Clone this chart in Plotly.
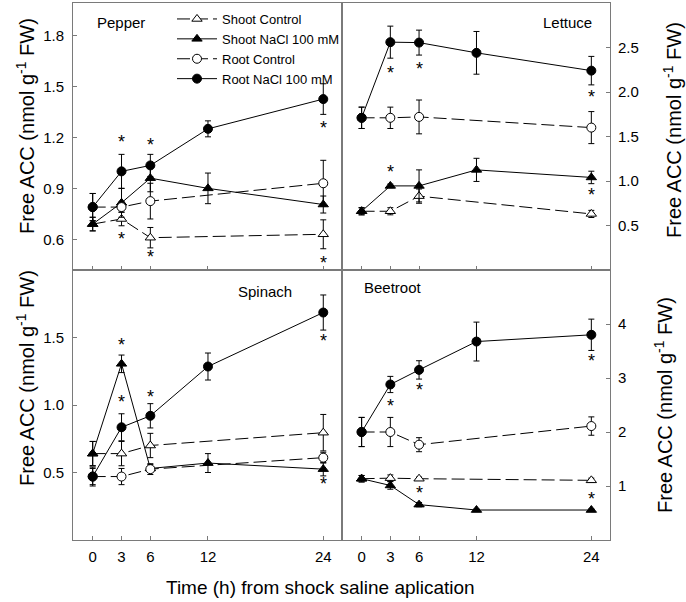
import plotly.graph_objects as go

W, H = 686, 602

t_ctrl = [0, 3, 6, 24]
t_nacl = [0, 3, 6, 12, 24]
x_ticks = [0, 3, 6, 12, 24]

# Pepper
pep_shoot_ctrl = [0.69, 0.72, 0.61, 0.63]
pep_shoot_ctrl_err = [0.04, 0.04, 0.06, 0.085]
pep_shoot_nacl = [0.69, 0.815, 0.96, 0.90, 0.805]
pep_shoot_nacl_err = [0.04, 0.085, 0.08, 0.09, 0.05]
pep_root_ctrl = [0.79, 0.79, 0.825, 0.93]
pep_root_ctrl_err = [0.08, 0.03, 0.105, 0.135]
pep_root_nacl = [0.79, 1.0, 1.035, 1.25, 1.425]
pep_root_nacl_err = [0.08, 0.1, 0.065, 0.047, 0.09]
pep_star_t = [3, 3, 6, 6, 24, 24]
pep_star_y = [1.18, 0.61, 1.16, 0.50, 1.26, 0.47]

# Lettuce
let_shoot_ctrl = [0.66, 0.66, 0.83, 0.63]
let_shoot_ctrl_err = [0.04, 0.04, 0.08, 0.04]
let_shoot_nacl = [0.66, 0.945, 0.945, 1.125, 1.04]
let_shoot_nacl_err = [0.04, 0.02, 0.18, 0.13, 0.07]
let_root_ctrl = [1.71, 1.71, 1.72, 1.60]
let_root_ctrl_err = [0.12, 0.12, 0.19, 0.18]
let_root_nacl = [1.71, 2.56, 2.555, 2.44, 2.24]
let_root_nacl_err = [0.12, 0.18, 0.14, 0.24, 0.16]
let_star_t = [3, 6, 24, 3, 24]
let_star_y = [2.23, 2.27, 1.96, 1.11, 0.85]

# Spinach
spi_shoot_ctrl = [0.64, 0.64, 0.70, 0.795]
spi_shoot_ctrl_err = [0.09, 0.09, 0.09, 0.135]
spi_shoot_nacl = [0.64, 1.305, 0.53, 0.57, 0.525]
spi_shoot_nacl_err = [0.09, 0.065, 0.03, 0.07, 0.05]
spi_root_ctrl = [0.47, 0.47, 0.525, 0.61]
spi_root_ctrl_err = [0.06, 0.06, 0.04, 0.04]
spi_root_nacl = [0.47, 0.835, 0.92, 1.285, 1.685]
spi_root_nacl_err = [0.07, 0.1, 0.09, 0.1, 0.13]
spi_star_t = [3, 3, 6, 24, 24]
spi_star_y = [1.45, 1.03, 1.07, 1.48, 0.42]

# Beetroot
bee_shoot_ctrl = [1.135, 1.145, 1.135, 1.105]
bee_shoot_ctrl_err = [0.06, 0.06, 0.03, 0.04]
bee_shoot_nacl = [1.135, 1.01, 0.655, 0.555, 0.555]
bee_shoot_nacl_err = [0.06, 0.07, 0.04, 0.02, 0.02]
bee_root_ctrl = [2.0, 2.0, 1.765, 2.11]
bee_root_ctrl_err = [0.27, 0.27, 0.13, 0.17]
bee_root_nacl = [2.0, 2.88, 3.15, 3.675, 3.8]
bee_root_nacl_err = [0.27, 0.15, 0.17, 0.36, 0.29]
bee_star_t = [3, 6, 24, 6, 24]
bee_star_y = [2.50, 2.80, 3.34, 0.89, 0.78]

series_names = ["Shoot Control", "Shoot NaCl 100 mM", "Root Control", "Root NaCl 100 mM"]

panels = [
    dict(name="Pepper", ax="", data=[
        (t_ctrl, pep_shoot_ctrl, pep_shoot_ctrl_err),
        (t_nacl, pep_shoot_nacl, pep_shoot_nacl_err),
        (t_ctrl, pep_root_ctrl, pep_root_ctrl_err),
        (t_nacl, pep_root_nacl, pep_root_nacl_err)], stars=(pep_star_t, pep_star_y)),
    dict(name="Lettuce", ax="2", data=[
        (t_ctrl, let_shoot_ctrl, let_shoot_ctrl_err),
        (t_nacl, let_shoot_nacl, let_shoot_nacl_err),
        (t_ctrl, let_root_ctrl, let_root_ctrl_err),
        (t_nacl, let_root_nacl, let_root_nacl_err)], stars=(let_star_t, let_star_y)),
    dict(name="Spinach", ax="3", data=[
        (t_ctrl, spi_shoot_ctrl, spi_shoot_ctrl_err),
        (t_nacl, spi_shoot_nacl, spi_shoot_nacl_err),
        (t_ctrl, spi_root_ctrl, spi_root_ctrl_err),
        (t_nacl, spi_root_nacl, spi_root_nacl_err)], stars=(spi_star_t, spi_star_y)),
    dict(name="Beetroot", ax="4", data=[
        (t_ctrl, bee_shoot_ctrl, bee_shoot_ctrl_err),
        (t_nacl, bee_shoot_nacl, bee_shoot_nacl_err),
        (t_ctrl, bee_root_ctrl, bee_root_ctrl_err),
        (t_nacl, bee_root_nacl, bee_root_nacl_err)], stars=(bee_star_t, bee_star_y)),
]

styles = [
    dict(symbol="triangle-up", fill="white", dash="13px,5px", size=9),
    dict(symbol="triangle-up", fill="black", dash="solid", size=9),
    dict(symbol="circle", fill="white", dash="13px,5px", size=9),
    dict(symbol="circle", fill="black", dash="solid", size=9),
]

FONT = "Liberation Sans, Arial, sans-serif"
fig = go.Figure()

for pi, p in enumerate(panels):
    for si, (tx, vy, ve) in enumerate(p["data"]):
        st = styles[si]
        fig.add_trace(go.Scatter(
            x=tx, y=vy, mode="lines+markers",
            name=series_names[si], showlegend=(pi == 0), legendrank=si + 1,
            xaxis="x" + p["ax"], yaxis="y" + p["ax"],
            line=dict(color="black", width=1, dash=st["dash"]),
            marker=dict(symbol=st["symbol"], size=st["size"], color=st["fill"],
                        line=dict(color="black", width=1)),
            error_y=dict(type="data", array=ve, visible=True, color="black",
                         thickness=1, width=3),
        ))

def px_x(px):
    return px / W

def px_y(py):
    return 1 - py / H

xl = [px_x(73), px_x(342)]
xr = [px_x(342), px_x(610)]
yt = [px_y(270), px_y(3)]
yb = [px_y(540), px_y(270)]

axis_common = dict(showline=True, linecolor="#7a7a7a", linewidth=1, mirror=True,
                   showgrid=False, zeroline=False, ticks="inside", ticklen=4,
                   tickcolor="#7a7a7a", tickfont=dict(family=FONT, size=15, color="black"))

xrange_ = [-2.05, 25.95]
layout = dict(
    width=W, height=H, margin=dict(l=0, r=0, t=0, b=0),
    paper_bgcolor="white", plot_bgcolor="white",
    font=dict(family=FONT, color="black"),
    xaxis=dict(domain=xl, range=xrange_, tickvals=x_ticks, showticklabels=False, anchor="y", **axis_common),
    xaxis2=dict(domain=xr, range=xrange_, tickvals=x_ticks, showticklabels=False, anchor="y2", **axis_common),
    xaxis3=dict(domain=xl, range=xrange_, tickvals=x_ticks, anchor="y3", ticklabelstandoff=3, **axis_common),
    xaxis4=dict(domain=xr, range=xrange_, tickvals=x_ticks, anchor="y4", ticklabelstandoff=3, **axis_common),
    yaxis=dict(domain=yt, range=[0.42, 1.99], tickvals=[0.6, 0.9, 1.2, 1.5, 1.8], tickformat=".1f",
               anchor="x", ticklabelstandoff=5, **axis_common),
    yaxis2=dict(domain=yt, range=[0, 3], tickvals=[0.5, 1.0, 1.5, 2.0, 2.5], tickformat=".1f",
                anchor="x2", side="right", ticklabelstandoff=4, **axis_common),
    yaxis3=dict(domain=yb, range=[0, 2], tickvals=[0.5, 1.0, 1.5], tickformat=".1f",
                anchor="x3", ticklabelstandoff=5, **axis_common),
    yaxis4=dict(domain=yb, range=[0, 5], tickvals=[1, 2, 3, 4],
                anchor="x4", side="right", ticklabelstandoff=4, **axis_common),
    legend=dict(x=px_x(172), y=px_y(4), xanchor="left", yanchor="top",
                bgcolor="rgba(0,0,0,0)", font=dict(family=FONT, size=13, color="black"),
                traceorder="normal", tracegroupgap=0, itemwidth=40),
)
fig.update_layout(**layout)

annotations = []
# panel names
name_pos = [(121, 22), (567, 22), (265, 291), (393, 287)]
for p, (nx, ny) in zip(panels, name_pos):
    annotations.append(dict(text=p["name"], x=px_x(nx), y=px_y(ny), xref="paper", yref="paper",
                            showarrow=False, font=dict(family=FONT, size=15, color="black"),
                            xanchor="center", yanchor="middle"))
# significance asterisks
for p in panels:
    st_t, st_y = p["stars"]
    for tx, ty in zip(st_t, st_y):
        annotations.append(dict(text="*", x=tx, y=ty, xref="x" + p["ax"], yref="y" + p["ax"],
                                showarrow=False, font=dict(family=FONT, size=18, color="black"),
                                xanchor="center", yanchor="middle", yshift=-1))

ytitle = "Free ACC (nmol g<sup>-1</sup> FW)"
for (tx, ty) in [(25, 126), (25, 378), (673, 130), (663, 405)]:
    annotations.append(dict(text=ytitle, x=px_x(tx), y=px_y(ty), xref="paper", yref="paper",
                            showarrow=False, textangle=-90,
                            font=dict(family=FONT, size=20, color="black"),
                            xanchor="center", yanchor="middle"))
annotations.append(dict(text="Time (h) from shock saline aplication", x=px_x(320), y=px_y(587),
                        xref="paper", yref="paper", showarrow=False,
                        font=dict(family=FONT, size=19, color="black"),
                        xanchor="center", yanchor="middle"))
fig.update_layout(annotations=annotations)

fig.write_html("out.html", config={"displayModeBar": False},
               post_script="document.body.style.margin='0';document.body.style.overflow='hidden';")
